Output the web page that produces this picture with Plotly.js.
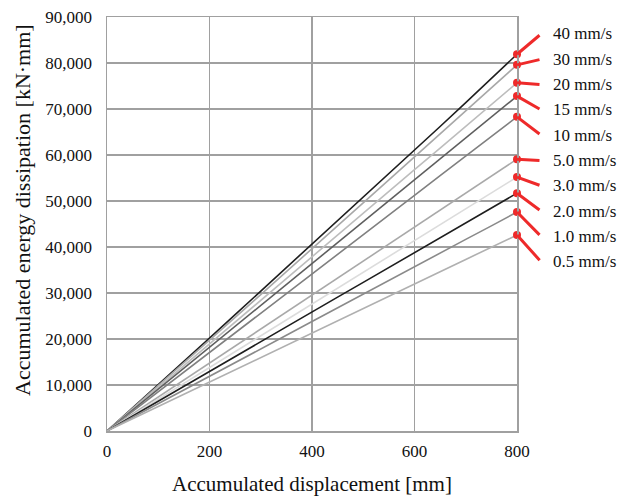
<!DOCTYPE html>
<html>
<head>
<meta charset="utf-8">
<script src="https://cdn.plot.ly/plotly-3.0.1.min.js"></script>
<style>html,body{margin:0;padding:0;background:#fff;}#chart{width:618px;height:497px;}</style>
</head>
<body>
<div id="chart"></div>
<script>
// Accumulated displacement [mm]
const displacement = [0, 50, 100, 150, 200, 250, 300, 350, 400, 450, 500, 550, 600, 650, 700, 750, 800];

// Series labels (loading rate)
const seriesNames = ["40 mm/s", "30 mm/s", "20 mm/s", "15 mm/s", "10 mm/s", "5.0 mm/s", "3.0 mm/s", "2.0 mm/s", "1.0 mm/s", "0.5 mm/s"];

// Accumulated energy dissipation [kN·mm]
const e40  = [0, 5000, 10100, 15200, 20200, 25300, 30400, 35400, 40500, 45600, 50700, 55800, 61000, 66200, 71400, 76600, 81900];
const e30  = [0, 4900, 9850, 14800, 19750, 24700, 29650, 34600, 39600, 44600, 49600, 54600, 59600, 64600, 69600, 74600, 79600];
const e20  = [0, 4750, 9450, 14200, 18900, 23650, 28400, 33100, 37850, 42600, 47300, 52050, 56800, 61500, 66250, 70950, 75700];
const e15  = [0, 4550, 9100, 13650, 18200, 22750, 27300, 31850, 36400, 40950, 45500, 50050, 54600, 59150, 63700, 68250, 72800];
const e10  = [0, 4250, 8550, 12800, 17050, 21350, 25600, 29900, 34150, 38400, 42700, 46950, 51200, 55500, 59750, 64050, 68300];
const e5   = [0, 3700, 7400, 11100, 14750, 18450, 22150, 25850, 29550, 33250, 36950, 40650, 44350, 48050, 51700, 55400, 59100];
const e3   = [0, 3450, 6900, 10350, 13800, 17250, 20700, 24150, 27600, 31050, 34500, 37950, 41400, 44850, 48300, 51750, 55200];
const e2   = [0, 3250, 6450, 9700, 12900, 16150, 19400, 22600, 25850, 29100, 32300, 35550, 38800, 42000, 45250, 48450, 51700];
const e1   = [0, 2950, 5950, 8900, 11900, 14900, 17850, 20800, 23800, 26800, 29750, 32700, 35700, 38700, 41650, 44600, 47600];
const e05  = [0, 2650, 5300, 8000, 10650, 13300, 15950, 18650, 21300, 23950, 26600, 29300, 31950, 34600, 37300, 39950, 42600];

const seriesValues = [e40, e30, e20, e15, e10, e5, e3, e2, e1, e05];
const lineColors = ["#1e1e1e", "#a8a8a8", "#bdbdbd", "#5e5e5e", "#808080", "#a9a9a9", "#dcdcdc", "#1e1e1e", "#8a8a8a", "#b0b0b0"];

const xTicks = [0, 200, 400, 600, 800];
const yTicks = [0, 10000, 20000, 30000, 40000, 50000, 60000, 70000, 80000, 90000];

const SERIF = "Times New Roman";

const traces = seriesValues.map((vals, i) => ({
  x: displacement, y: vals, type: "scatter", mode: "lines",
  name: seriesNames[i], line: {color: lineColors[i], width: 1.6}, hoverinfo: "skip"
}));

const lastX = displacement[displacement.length - 1];
const endY = seriesValues.map(v => v[v.length - 1]);

const plotLeft = 107, plotRight = 517, plotTop = 17, plotBottom = 431;
const plotW = plotRight - plotLeft, plotH = plotBottom - plotTop;
const yMax = 90000;
const labelTop = 34, labelStep = 25.3;
const annotations = [];
seriesNames.forEach((nm, i) => {
  const labelY = labelTop + i * labelStep;
  const dotY = plotBottom - endY[i] / yMax * plotH;
  annotations.push({
    x: lastX, y: endY[i], xref: "x", yref: "y", text: "",
    showarrow: true, arrowhead: 0, arrowwidth: 3, arrowcolor: "#ee2a2a",
    ax: 24, ay: labelY - dotY, axref: "pixel", ayref: "pixel", standoff: 0, startstandoff: 0
  });
  annotations.push({
    x: (551 - plotLeft) / plotW, y: 1 - (labelY - plotTop) / plotH, xref: "paper", yref: "paper",
    text: nm, showarrow: false, xanchor: "left", yanchor: "middle",
    font: {family: SERIF, size: 17, color: "#111"}
  });
});

// y-axis title placed as a rotated annotation (slightly above plot centre, as in the reference)
annotations.push({
  x: (22 - plotLeft) / plotW, y: 1 - (210 - plotTop) / plotH, xref: "paper", yref: "paper",
  text: "Accumulated energy dissipation [kN·mm]", showarrow: false, textangle: -90,
  xanchor: "center", yanchor: "middle",
  font: {family: SERIF, size: 22, color: "#111"}
});

// red end markers (drawn over leader lines)
traces.push({
  x: endY.map(() => lastX), y: endY, type: "scatter", mode: "markers",
  marker: {color: "#ee2a2a", size: 8, line: {width: 0}}, cliponaxis: false, hoverinfo: "skip"
});

const layout = {
  width: 618, height: 497,
  margin: {l: 107, r: 101, t: 17, b: 66},
  paper_bgcolor: "#fff", plot_bgcolor: "#fff",
  showlegend: false,
  font: {family: SERIF, size: 17, color: "#111"},
  xaxis: {
    range: [0, 800], tickvals: xTicks, ticktext: xTicks.map(String),
    tickfont: {family: SERIF, size: 17, color: "#111"},
    showgrid: true, gridcolor: "#a0a0a0", gridwidth: 1.5,
    showline: true, linecolor: "#a0a0a0", linewidth: 1.5, mirror: true,
    zeroline: false, ticks: "", ticklabelstandoff: 4,
    title: {text: "Accumulated displacement [mm]", font: {family: SERIF, size: 21, color: "#111"}, standoff: 16}
  },
  yaxis: {
    range: [0, 90000], tickvals: yTicks, ticktext: yTicks.map(v => v.toLocaleString("en-US")),
    tickfont: {family: SERIF, size: 17, color: "#111"},
    showgrid: true, gridcolor: "#a0a0a0", gridwidth: 1.5,
    showline: true, linecolor: "#a0a0a0", linewidth: 1.5, mirror: true,
    zeroline: false, ticks: "", ticklabelstandoff: 10
  },
  annotations: annotations
};

Plotly.newPlot("chart", traces, layout, {displayModeBar: false, staticPlot: true});
</script>
</body>
</html>
